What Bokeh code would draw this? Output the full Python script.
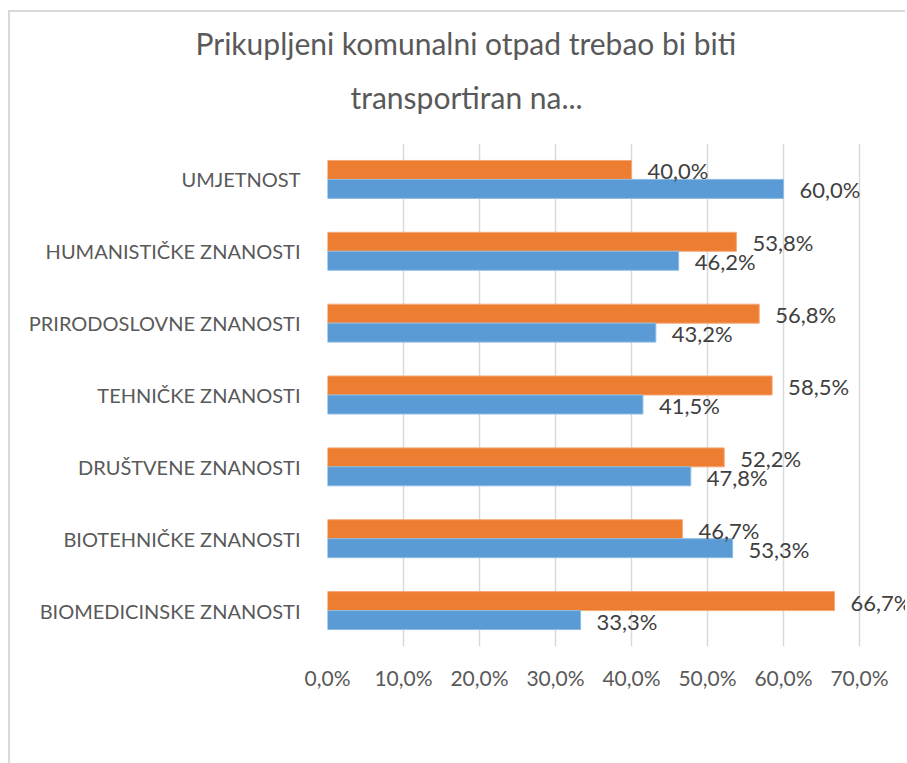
from bokeh.plotting import figure
from bokeh.models import (ColumnDataSource, FactorRange, Range1d, FixedTicker, Legend,
                          LegendItem, Title)
from bokeh.transform import dodge
from bokeh.core.properties import value
from bokeh.embed import file_html
from bokeh.resources import INLINE

# ---- data ----
categories = ["UMJETNOST", "HUMANISTIČKE ZNANOSTI", "PRIRODOSLOVNE ZNANOSTI",
              "TEHNIČKE ZNANOSTI", "DRUŠTVENE ZNANOSTI", "BIOTEHNIČKE ZNANOSTI",
              "BIOMEDICINSKE ZNANOSTI"]
tocno = [40.0, 53.8, 56.8, 58.5, 52.2, 46.7, 66.7]
netocno = [60.0, 46.2, 43.2, 41.5, 47.8, 53.3, 33.3]
x_ticks = [0, 10, 20, 30, 40, 50, 60, 70]
series_names = ["Točno", "Netočno"]
title_lines = ["Prikupljeni komunalni otpad trebao bi biti", "transportiran na..."]

FONT = "Lato"
ORANGE = "#ED7D31"
BLUE = "#5B9BD5"
GREY_TXT = "#595959"

def fmt(v):
    return f"{v:.1f}%".replace(".", ",")

src = ColumnDataSource(dict(
    cat=categories,
    tocno=tocno,
    netocno=netocno,
    tocno_lbl=[fmt(v) for v in tocno],
    netocno_lbl=[fmt(v) for v in netocno],
))

FRAME_W, FRAME_H = 578, 503
p = figure(frame_width=FRAME_W, frame_height=FRAME_H,
           output_backend="svg", toolbar_location=None,
           y_range=FactorRange(factors=list(reversed(categories)), range_padding=0),
           x_range=Range1d(0, 76.05),
           min_border_left=317, min_border_right=0, min_border_top=131,
           min_border_bottom=114)
p.y_range.factor_padding = 0

p.styles = {"margin-left": "8px", "margin-top": "10px",
            "border-top": "2px solid #d9d9d9", "border-left": "2px solid #d9d9d9"}

bh = 0.264
r1 = p.hbar(y=dodge("cat", 0.132, range=p.y_range), right="tocno", left=0, height=bh,
            source=src, fill_color=ORANGE, line_color="#F4A877", line_width=1)
r2 = p.hbar(y=dodge("cat", -0.132, range=p.y_range), right="netocno", left=0, height=bh,
            source=src, fill_color=BLUE, line_color="#8DBAE3", line_width=1)

p.text(x="tocno", y=dodge("cat", 0.132, range=p.y_range), text="tocno_lbl", source=src,
       x_offset=16, y_offset=1, text_font=value(FONT), text_font_size="22px",
       text_color="#404040", text_baseline="middle", text_align="left")
p.text(x="netocno", y=dodge("cat", -0.132, range=p.y_range), text="netocno_lbl", source=src,
       x_offset=16, y_offset=1, text_font=value(FONT), text_font_size="22px",
       text_color="#404040", text_baseline="middle", text_align="left")

# axes
p.xaxis.ticker = FixedTicker(ticks=x_ticks)
p.xaxis.major_label_overrides = {t: fmt(t) for t in x_ticks}
p.xaxis.axis_line_color = None
p.xaxis.major_tick_line_color = None
p.xaxis.minor_tick_line_color = None
p.xaxis.major_label_standoff = 12
p.xaxis.major_label_text_font = FONT
p.xaxis.major_label_text_font_size = "21px"
p.xaxis.major_label_text_color = GREY_TXT

p.yaxis.axis_line_color = None
p.yaxis.major_tick_line_color = None
p.yaxis.minor_tick_line_color = None
p.yaxis.major_label_standoff = 21
p.yaxis.major_label_text_font = FONT
p.yaxis.major_label_text_font_size = "20px"
p.yaxis.major_label_text_color = GREY_TXT

p.xgrid.grid_line_color = "#d9d9d9"
p.xgrid.grid_line_width = 1.5
p.ygrid.grid_line_color = None
p.outline_line_color = None

# title: two lines, the nearer (second) line added first
p.add_layout(Title(text=title_lines[1], align="left", offset=23, standoff=58,
                   text_font=FONT, text_font_size="30px", text_font_style="normal",
                   text_color=GREY_TXT), "above")
p.add_layout(Title(text=title_lines[0], align="left", offset=-132, standoff=-27,
                   text_font=FONT, text_font_size="30px", text_font_style="normal",
                   text_color=GREY_TXT), "above")

legend = Legend(items=[LegendItem(label=series_names[0], renderers=[r1]),
                       LegendItem(label=series_names[1], renderers=[r2])],
                orientation="horizontal", location="top_left",
                label_text_font=FONT, label_text_font_size="21px",
                label_text_color=GREY_TXT, glyph_width=14, glyph_height=14,
                spacing=22, label_standoff=6, border_line_color=None,
                background_fill_alpha=0, margin=0, padding=0)
p.add_layout(legend, "below")

open("out.html", "w").write(file_html(p, INLINE))
